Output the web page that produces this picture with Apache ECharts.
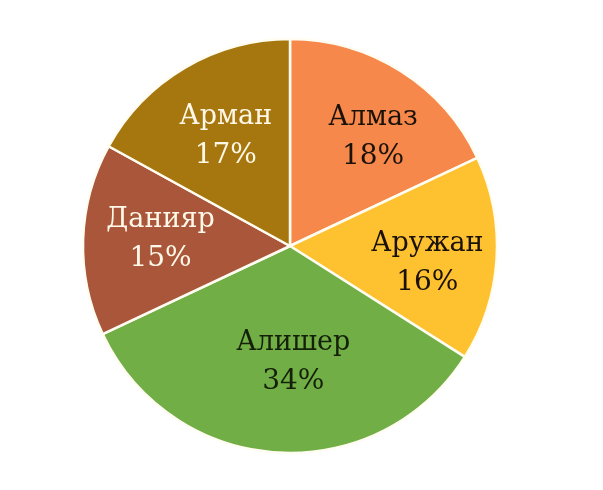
<!DOCTYPE html>
<html>
<head>
<meta charset="utf-8">
<script src="https://cdn.jsdelivr.net/npm/echarts@6/dist/echarts.min.js"></script>
<style>html,body{margin:0;padding:0;background:#fff;}#c{width:603px;height:490px;}</style>
</head>
<body>
<div id="c"></div>
<script>
const names = ['Алмаз', 'Аружан', 'Алишер', 'Данияр', 'Арман'];
const shares = [18, 16, 34, 15, 17];

const sliceColors = ['#F5884A', '#FEC130', '#71AE46', '#A9563A', '#A6770F'];
const textColors = ['#1a1208', '#1a1208', '#142008', '#FFF8E8', '#FFF8E8'];
const labelShift = [[26, -19], [31, 11], [10, 10], [-23, -3], [-10, -18]];

const chart = echarts.init(document.getElementById('c'), null, {renderer: 'canvas'});
chart.setOption({
  animation: false,
  series: [{
    type: 'pie',
    center: [290, 246],
    radius: 207,
    startAngle: 90,
    clockwise: true,
    percentPrecision: 0,
    itemStyle: {borderColor: '#FFFDF2', borderWidth: 2.5},
    label: {
      position: 'inside',
      formatter: '{n|{b}}\n{p|{d}%}',
      rich: {
        n: {fontFamily: 'DejaVu Serif', fontSize: 27, lineHeight: 39},
        p: {fontFamily: 'DejaVu Serif', fontSize: 28, lineHeight: 39}
      }
    },
    labelLine: {show: false},
    labelLayout: function (p) {
      return {dx: labelShift[p.dataIndex][0], dy: labelShift[p.dataIndex][1]};
    },
    emphasis: {disabled: true},
    data: names.map((n, i) => ({
      name: n,
      value: shares[i],
      itemStyle: {color: sliceColors[i]},
      label: {color: textColors[i], rich: {n: {color: textColors[i]}, p: {color: textColors[i]}}}
    }))
  }]
});
</script>
</body>
</html>
